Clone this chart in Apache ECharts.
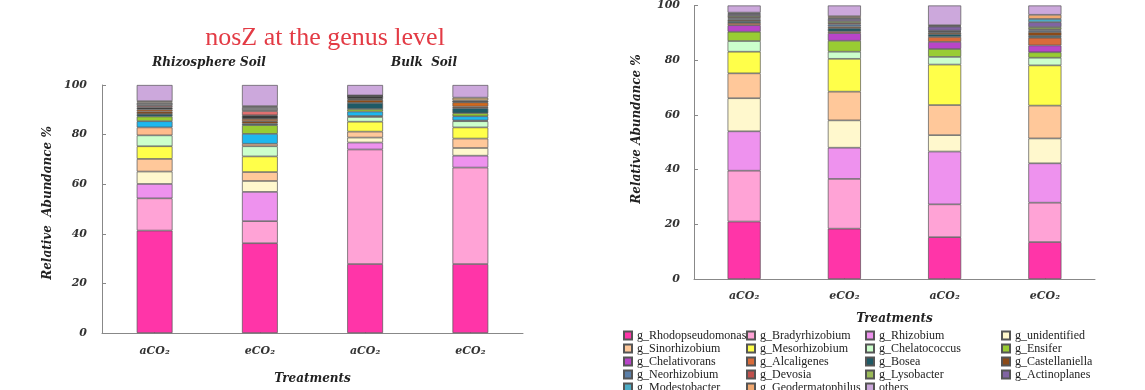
<!DOCTYPE html>
<html>
<head>
<meta charset="utf-8">
<script src="https://cdn.jsdelivr.net/npm/echarts@6/dist/echarts.min.js"></script>
<style>html,body{margin:0;padding:0;background:#fff;}#c{width:1145px;height:390px;}</style>
</head>
<body>
<div id="c"></div>
<script>
// ---------- DATA ----------
const categories = ['aCO₂', 'eCO₂', 'aCO₂', 'eCO₂'];

// Left chart (nosZ) – stack segments from bottom to top
const nosZNames = ['taxon 1','taxon 2','taxon 3','taxon 4','taxon 5','taxon 6','taxon 7','taxon 8','taxon 9',
  'taxon 10','taxon 11','taxon 12','taxon 13','taxon 14','taxon 15','taxon 16','taxon 17','others '];
const nosZRhizoA = [41.3, 13.0, 5.8, 5.0, 5.1, 5.1, 4.4, 3.2, 2.5, 1.9, 1.0, 1.0, 0.8, 0.9, 0.6, 1.3, 0.6, 6.5];
const nosZRhizoE = [36.2, 8.9, 11.8, 4.4, 3.6, 6.3, 4.1, 1.0, 4.0, 3.5, 0.6, 1.0, 0.9, 1.5, 1.7, 1.6, 0.4, 8.5];
const nosZBulkA  = [27.8, 46.2, 2.8, 2.0, 2.4, 4.0, 1.9, 0.4, 1.8, 1.0, 2.5, 1.2, 0.3, 1.3, 0, 0, 0.2, 4.2];
const nosZBulkE  = [27.8, 38.9, 4.8, 3.1, 3.8, 4.5, 2.5, 0.3, 1.7, 1.2, 2.1, 0.6, 1.7, 0.3, 0, 0.4, 1.2, 5.1];

// Right chart – genera in legend order (stack bottom to top)
const genera = ['g_Rhodopseudomonas','g_Bradyrhizobium','g_Rhizobium','g_unidentified','g_Sinorhizobium',
  'g_Mesorhizobium','g_Chelatococcus','g_Ensifer','g_Chelativorans','g_Alcaligenes','g_Bosea','g_Castellaniella',
  'g_Neorhizobium','g_Devosia','g_Lysobacter','g_Actinoplanes','g_Modestobacter','g_Geodermatophilus','others'];
const genusRhizoA = [21.0, 18.6, 14.4, 12.1, 9.1, 7.9, 3.9, 3.4, 2.4, 0.8, 0.7, 0.5, 0.5, 0.4, 0.5, 0.6, 0.3, 0.3, 2.6];
const genusRhizoE = [18.4, 18.2, 11.4, 10.0, 10.5, 12.0, 2.6, 4.0, 2.8, 0.6, 1.2, 0.6, 0.8, 0.5, 0.7, 0.8, 0.4, 0.6, 3.9];
const genusBulkA  = [15.3, 12.0, 19.3, 6.0, 11.0, 14.8, 2.8, 2.9, 2.6, 1.8, 1.0, 0.6, 0.3, 0.2, 0.2, 1.5, 0.2, 0.3, 7.2];
const genusBulkE  = [13.5, 14.4, 14.4, 9.1, 12.0, 14.7, 2.8, 2.0, 2.5, 2.8, 0.7, 1.4, 0.6, 0.4, 0.8, 1.8, 1.2, 1.5, 3.4];

// ---------- STYLES ----------
const nosZColors = ['#FF35A8','#FFA3D6','#EE92EE','#FFF8CD','#FFC89A','#FFFF4A','#CCFFCC','#FFBB8C','#1EB8EE',
  '#99CC33','#1F5A66','#8B4A17','#D2691E','#3A3A3A','#E07070','#7F7F7F','#C8A878','#CCA8DC'];
const genusColors = ['#FF35A8','#FFA3D6','#EE92EE','#FFF8CD','#FFC89A','#FFFF4A','#CCFFCC','#99CC33','#B845C8',
  '#D96B3A','#1F5A66','#8B4A17','#5B7FA8','#C0504D','#9BBB59','#8064A2','#4BACC6','#F0A870','#CCA8DC'];

const serif = '"DejaVu Serif", "Liberation Serif", serif';
const labelStyle = { fontFamily: serif, fontStyle: 'italic', fontWeight: 'bold', fontSize: 11, color: '#333' };
const axisLineStyle = { lineStyle: { color: '#888', width: 1 } };

function makeSeries(names, colors, bars, axisIdx, stack, bw) {
  return names.map((n, i) => ({
    name: n, type: 'bar', stack: stack, xAxisIndex: axisIdx, yAxisIndex: axisIdx,
    barWidth: bw, data: bars.map(b => b[i]),
    itemStyle: { color: colors[i], borderColor: '#555', borderWidth: 0.7 },
    emphasis: { disabled: true }, animation: false
  }));
}

const series = [].concat(
  makeSeries(nosZNames, nosZColors, [nosZRhizoA, nosZRhizoE, nosZBulkA, nosZBulkE], 0, 'left', '34%'),
  makeSeries(genera, genusColors, [genusRhizoA, genusRhizoE, genusBulkA, genusBulkE], 1, 'right', '33%')
);

const legendCols = [
  ['g_Rhodopseudomonas','g_Sinorhizobium','g_Chelativorans','g_Neorhizobium','g_Modestobacter'],
  ['g_Bradyrhizobium','g_Mesorhizobium','g_Alcaligenes','g_Devosia','g_Geodermatophilus'],
  ['g_Rhizobium','g_Chelatococcus','g_Bosea','g_Lysobacter','others'],
  ['g_unidentified','g_Ensifer','g_Castellaniella','g_Actinoplanes']
];
const legendX = [623, 746, 865, 1001];

const chart = echarts.init(document.getElementById('c'), null, { renderer: 'canvas' });
chart.setOption({
  animation: false,
  title: [{
    text: 'nosZ at the genus level', left: 320, top: 20, textAlign: 'center',
    textStyle: { fontFamily: '"Liberation Serif", serif', fontWeight: 'normal', fontSize: 26, color: '#E33B45' }
  }],
  grid: [
    { left: 102, right: 622, top: 85, bottom: 42 },
    { left: 694, right: 50, top: 2, bottom: 111 }
  ],
  xAxis: [0, 1].map(i => ({
    type: 'category', gridIndex: i, data: categories,
    axisLine: axisLineStyle,
    axisTick: { show: true, inside: true, length: 3, alignWithLabel: true, lineStyle: { color: '#888' } },
    axisLabel: Object.assign({ margin: i === 0 ? 13 : 12 }, labelStyle),
    name: 'Treatments', nameLocation: 'middle', nameGap: i === 0 ? 40 : 34,
    nameTextStyle: { fontFamily: serif, fontStyle: 'italic', fontWeight: 'bold', fontSize: 12, color: '#222' }
  })),
  yAxis: [0, 1].map(i => ({
    type: 'value', gridIndex: i, min: 0, max: 100, interval: 20,
    splitLine: { show: false },
    axisLine: Object.assign({ show: true }, axisLineStyle),
    axisTick: { show: true, inside: true, length: 4, lineStyle: { color: '#888' } },
    axisLabel: Object.assign({ margin: i === 0 ? 15 : 14 }, labelStyle)
  })),
  legend: legendCols.map((col, k) => ({
    data: col, orient: 'vertical', left: legendX[k], top: 329, height: 120, width: 140,
    padding: 0, icon: 'rect',
    itemWidth: 8, itemHeight: 8, itemGap: 0, selectedMode: false,
    textStyle: { fontFamily: '"Liberation Serif", serif', fontSize: 12, color: '#222', lineHeight: 13 }
  })),
  graphic: [
    { type: 'text', x: 209, y: 63, style: { text: 'Rhizosphere Soil', font: 'italic bold 12px ' + serif, fill: '#222', align: 'center', verticalAlign: 'middle', textAlign: 'center', textVerticalAlign: 'middle' } },
    { type: 'text', x: 424, y: 63, style: { text: 'Bulk  Soil', font: 'italic bold 12px ' + serif, fill: '#222', align: 'center', verticalAlign: 'middle', textAlign: 'center', textVerticalAlign: 'middle' } },
    { type: 'text', x: 48, y: 203, rotation: Math.PI / 2, style: { text: 'Relative  Abundance %', font: 'italic bold 12px ' + serif, fill: '#222', align: 'center', verticalAlign: 'middle', textAlign: 'center', textVerticalAlign: 'middle' } },
    { type: 'text', x: 637, y: 129, rotation: Math.PI / 2, style: { text: 'Relative Abundance %', font: 'italic bold 12px ' + serif, fill: '#222', align: 'center', verticalAlign: 'middle', textAlign: 'center', textVerticalAlign: 'middle' } }
  ],
  series: series
});
</script>
</body>
</html>
